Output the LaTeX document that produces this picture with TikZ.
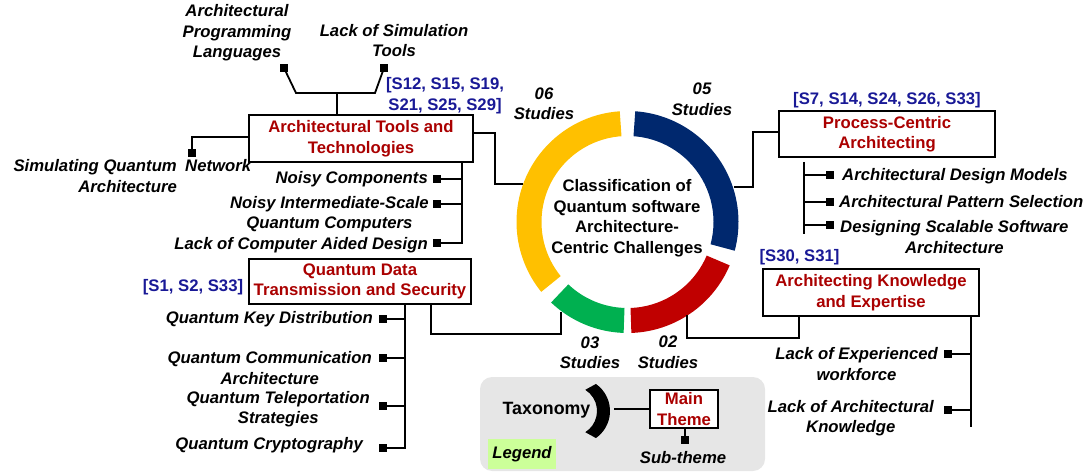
\documentclass[tikz,border=0pt]{standalone}
\usepackage{fontspec}
\setmainfont{Liberation Sans}
\usetikzlibrary{calc}
\definecolor{cyel}{RGB}{255,192,0}
\definecolor{cblu}{RGB}{0,40,110}
\definecolor{cred}{RGB}{192,0,0}
\definecolor{cgrn}{RGB}{0,176,80}
\definecolor{ttlred}{RGB}{170,0,0}
\definecolor{citeblue}{RGB}{25,25,150}
\definecolor{leggray}{RGB}{230,230,230}
\definecolor{leggreen}{RGB}{204,255,153}
\tikzset{
  fnt/.style={font=\fontsize{16.7}{20.5}\selectfont\bfseries},
  itm/.style={font=\fontsize{16.7}{20.5}\selectfont\bfseries\itshape, inner sep=0pt, align=center},
  ttl/.style={fnt, text=ttlred, align=center},
  mbox/.style={ttl, draw, line width=1.8pt, fill=white, inner sep=0pt},
  cite/.style={fnt, text=citeblue, align=center, inner sep=0pt},
  sq/.style={fill=black, minimum size=8pt, inner sep=0pt},
  conn/.style={line width=1.8pt},
}
\begin{document}
\begin{tikzpicture}[x=1pt,y=-1pt]
\useasboundingbox (0,0) rectangle (1092,473);
% ring
\coordinate (C) at (627.5,222);
\fill[cblu] ($(C)+(-86:111)$) arc[start angle=-86,end angle=15,radius=111] -- ($(C)+(15:86)$) arc[start angle=15,end angle=-86,radius=86] -- cycle;
\fill[cyel] ($(C)+(-94:111)$) arc[start angle=-94,end angle=-219,radius=111] -- ($(C)+(-219:86)$) arc[start angle=-219,end angle=-94,radius=86] -- cycle;
\fill[cgrn] ($(C)+(-226.5:111)$) arc[start angle=-226.5,end angle=-268,radius=111] -- ($(C)+(-268:86)$) arc[start angle=-268,end angle=-226.5,radius=86] -- cycle;
\fill[cred] ($(C)+(-272:111)$) arc[start angle=-272,end angle=-337,radius=111] -- ($(C)+(-337:86)$) arc[start angle=-337,end angle=-272,radius=86] -- cycle;
\node[fnt, align=center, inner sep=0pt] (ctr) at (627,218) {Classification of\\Quantum software\\Architecture-\\Centric Challenges};
\node[itm] (s06) at (544,104) {06\\Studies};
\node[itm] (s05) at (702,99.5) {05\\Studies};
\node[itm] (s03) at (590,353) {03\\Studies};
\node[itm] (s02) at (668,352.5) {02\\Studies};

% ---- Box 1
\node[mbox, minimum width=224pt, minimum height=47pt] (b1) at (361,138.5) {Architectural Tools and\\Technologies};
\node[cite] (c1) at (445,95.5) {[S12, S15, S19,\\S21, S25, S29]};
\node[sq] (sqA) at (284,68) {};
\node[sq] (sqB) at (384,68) {};
\coordinate (j1) at (296,93);
\coordinate (j2) at (375,93);
\coordinate (j3) at (337,93);
\draw[conn] (sqA.center) -- (j1) -- (j2) -- (sqB.center);
\draw[conn] (b1.north -| j3) -- (j3);
\node[itm] (tA) at (237,33) {Architectural\\Programming\\Languages};
\node[itm] (tB) at (394,40.5) {Lack of Simulation\\Tools};
\node[sq] (sqS) at (192,153) {};
\coordinate (k1) at (192,137);
\draw[conn] (b1.west |- k1) -- (k1) -- (sqS.center);
\node[itm, align=right, anchor=east] (tS) at (177,176) {Simulating Quantum\\Architecture};
\node[itm, anchor=west] (tSN) at (185,166) {Network};
\coordinate (k2) at (495,133);
\coordinate (k3) at (495,184);
\coordinate (r1) at (523,184);
\draw[conn] (b1.east |- k2) -- (k2) -- (k3) -- (r1);
\coordinate (v1) at (462,244);
\draw[conn] (b1.south -| v1) -- (v1);
\node[sq] (sqN1) at (437,179) {};
\node[sq] (sqN2) at (437,204) {};
\node[sq] (sqN3) at (437,243) {};
\draw[conn] (sqN1.center) -- (v1 |- sqN1);
\draw[conn] (sqN2.center) -- (v1 |- sqN2);
\draw[conn] (sqN3.center) -- (v1 |- sqN3);
\node[itm, anchor=east] (tN1) at (428,179) {Noisy Components};
\node[itm, anchor=east] (tN2) at (429,214) {Noisy Intermediate-Scale\\Quantum Computers};
\node[itm, anchor=east] (tN3) at (428,245) {Lack of Computer Aided Design};

% ---- Box 2
\node[mbox, minimum width=222pt, minimum height=45pt] (b2) at (360,281.5) {Quantum Data\\Transmission and Security};
\node[cite] (c2) at (193,287) {[S1, S2, S33]};
\coordinate (k4) at (431,334);
\coordinate (k5) at (561,334);
\coordinate (r3) at (561,312);
\draw[conn] (b2.south -| k4) -- (k4) -- (k5) -- (r3);
\coordinate (v2) at (405,449);
\draw[conn] (b2.south -| v2) -- (v2);
\node[sq] (sqQ1) at (383,319) {};
\node[sq] (sqQ2) at (383,358) {};
\node[sq] (sqQ3) at (383,406) {};
\node[sq] (sqQ4) at (383,448) {};
\draw[conn] (sqQ1.center) -- (v2 |- sqQ1);
\draw[conn] (sqQ2.center) -- (v2 |- sqQ2);
\draw[conn] (sqQ3.center) -- (v2 |- sqQ3);
\draw[conn] (sqQ4.center) -- (v2 |- sqQ4);
\node[itm, anchor=east] (tQ1) at (373,319) {Quantum Key Distribution};
\node[itm, anchor=east] (tQ2) at (372,368) {Quantum Communication\\Architecture};
\node[itm, anchor=east] (tQ3) at (370,409) {Quantum Teleportation\\Strategies};
\node[itm, anchor=east] (tQ4) at (363,445) {Quantum Cryptography};

% ---- Box 3
\node[mbox, minimum width=216pt, minimum height=46pt] (b3) at (887,134) {Process-Centric\\Architecting};
\node[cite] (c3) at (887,100) {[S7, S14, S24, S26, S33]};
\coordinate (k6) at (753,132);
\coordinate (k7) at (753,187);
\coordinate (r2) at (734,187);
\draw[conn] (b3.west |- k6) -- (k6) -- (k7) -- (r2);
\coordinate (v3a) at (804,162);
\coordinate (v3b) at (804,234);
\draw[conn] (v3a) -- (v3b);
\node[sq] (sqP1) at (830,175) {};
\node[sq] (sqP2) at (830,202) {};
\node[sq] (sqP3) at (830,225) {};
\draw[conn] (sqP1.center) -- (v3a |- sqP1);
\draw[conn] (sqP2.center) -- (v3a |- sqP2);
\draw[conn] (sqP3.center) -- (v3a |- sqP3);
\node[itm, anchor=west] (tP1) at (842,176) {Architectural Design Models};
\node[itm, anchor=west] (tP2) at (839,202) {Architectural Pattern Selection};
\node[itm, anchor=west] (tP3) at (840,237) {Designing Scalable Software\\Architecture};

% ---- Box 4
\node[mbox, minimum width=216pt, minimum height=47pt] (b4) at (871,292.5) {Architecting Knowledge\\and Expertise};
\node[cite] (c4) at (799.5,257) {[S30, S31]};
\coordinate (k8) at (799,338);
\coordinate (k9) at (687,338);
\coordinate (r4) at (687,315);
\draw[conn] (b4.south -| k8) -- (k8) -- (k9) -- (r4);
\coordinate (v4) at (971,427);
\draw[conn] (b4.south -| v4) -- (v4);
\node[sq] (sqK1) at (948,354) {};
\node[sq] (sqK2) at (948,410) {};
\draw[conn] (sqK1.center) -- (v4 |- sqK1);
\draw[conn] (sqK2.center) -- (v4 |- sqK2);
\node[itm, anchor=east] (tK1) at (938,364) {Lack of Experienced\\workforce};
\node[itm, anchor=east] (tK2) at (934,418) {Lack of Architectural\\Knowledge};

% ---- Legend
\fill[leggray, rounded corners=12pt] (480,377) rectangle (765,471);
\coordinate (T) at (577,411);
\coordinate (T2) at (572,411);
\fill[black] ($(T)+(-55:33)$) arc[start angle=-55,end angle=55,radius=33] -- ($(T2)+(58:25)$) arc[start angle=58,end angle=-58,radius=25] -- cycle;
\coordinate (cr) at (614,409);
\node[font=\fontsize{17.8}{21}\selectfont\bfseries, inner sep=0pt] (tax) at (546.5,410) {Taxonomy};
\node[mbox, minimum width=68pt, minimum height=38pt] (mt) at (684,409) {Main\\Theme};
\draw[conn] (cr) -- (mt.west);
\node[sq] (sqL) at (685,440) {};
\draw[conn] (mt.south -| sqL) -- (sqL.center);
\node[itm] (sub) at (683,458) {Sub-theme};
\node[itm, fill=leggreen, minimum width=68pt, minimum height=30pt] (leg) at (522,454) {Legend};
\end{tikzpicture}
\end{document}
